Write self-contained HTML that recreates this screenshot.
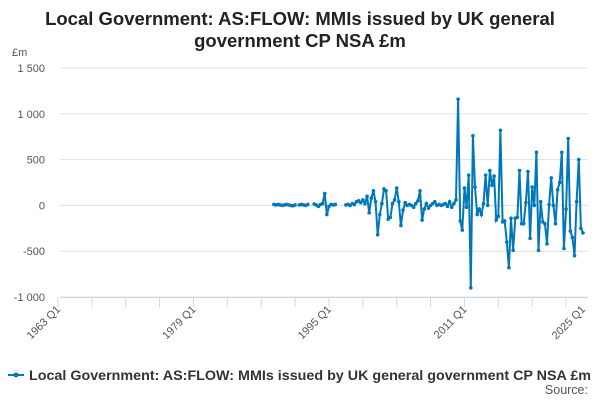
<!DOCTYPE html>
<html><head><meta charset="utf-8"><style>
body{margin:0;width:600px;height:400px;background:#fff;font-family:"Liberation Sans",sans-serif;overflow:hidden}
</style></head><body>
<svg id="c" width="600" height="400" xmlns="http://www.w3.org/2000/svg">
<text x="300" y="25" text-anchor="middle" font-size="18.5" font-weight="bold" fill="#222">Local Government: AS:FLOW: MMIs issued by UK general</text>
<text x="300" y="47" text-anchor="middle" font-size="18.5" font-weight="bold" fill="#222">government CP NSA £m</text>
<text x="12" y="56" font-size="11" fill="#555">£m</text>
<g id="grid"></g><g id="xax"></g><g id="series"></g>
<g>
<line x1="8" y1="375" x2="24" y2="375" stroke="#0077bb" stroke-width="2"/><circle cx="16" cy="375" r="2.5" fill="#0077bb"/>
<text x="29" y="380" font-size="13.5" font-weight="bold" fill="#333" textLength="562" lengthAdjust="spacingAndGlyphs">Local Government: AS:FLOW: MMIs issued by UK general government CP NSA £m</text>
</g>
<text x="588" y="394" text-anchor="end" font-size="12.5" fill="#555">Source:</text>
</svg>
<script>
const yTicks=[1500,1000,500,0,-500,-1000];
const yTickLabels=["1 500","1 000","500","0","-500","-1 000"];
const xTickLabels=["1963 Q1","1979 Q1","1995 Q1","2011 Q1","2025 Q1"];
const xTickYears=[1963,1979,1995,2011,2025];
const startYear=1988.5;
const values=[10,5, 10,5,0,5, 10,5,0,-5, 5,null,5,10, 5,0,10,null, null,15,5,-10, 10,20,130,-100, -10,10,5,10, null,null,null,null, 5,10,0,20, 10,40,50,30, 60,20,100,-80, 80,160,40,-320, -100,20,180,160, -150,-130,20,60, 190,40,-220,-50, 30,0,10,0, -20,20,50,160, -160,-40,20,-30, 0,20,40,0,
10,0,10,20,-10,40,-20,20,60,1160,-170,-270,190,-20,330,-900,760,200,-100,-40,-100,20,330,0,380,220,320,-160,-120,820,-180,-170,-400,-680,-140,-490,-140,-130,380,-200,-200,30,370,-360,200,0,580,-490,40,-180,-200,-420,10,300,0,-200,170,250,580,-470,-40,730,-280,-350,-550,40,500,-250,-300];
const NS="http://www.w3.org/2000/svg";
const X0=58,X1=583,Y0=297,Y1=68;
const xs=t=>X0+(t-1963)/(2025-1963)*(X1-X0);
const ys=v=>Y0-(v+1000)/2500*(Y0-Y1);
function mk(tag,at,parent){const e=document.createElementNS(NS,tag);for(const k in at)e.setAttribute(k,at[k]);parent.appendChild(e);return e;}
const grid=document.getElementById('grid');
yTicks.forEach((v,i)=>{
 const l=mk('line',{x1:60,x2:588,y1:ys(v),y2:ys(v),stroke:'#e0e0e0','stroke-width':1},grid);
 
 
 const t=mk('text',{x:45,y:ys(v)+4,'text-anchor':'end','font-size':11,fill:'#555'},grid);
 t.textContent=yTickLabels[i];
 
 
});
const xax=document.getElementById('xax');
mk('line',{x1:60,x2:588,y1:297.5,y2:297.5,stroke:'#ccd6eb'},xax);
for(let y=1963;y<=2025;y+=4){const tk=mk('line',{x1:xs(y),x2:xs(y),y1:297,y2:307,stroke:'#ccd6eb'},xax);
 
 }
xTickLabels.forEach((s,i)=>{const x=xs(xTickYears[i]);
 const t=mk('text',{x:x+3,y:310,'text-anchor':'end','font-size':11,fill:'#555',transform:`rotate(-45 ${x+3} 310)`},xax);
 t.textContent=s;
 
 });
const ser=document.getElementById('series');
let d='',pen=false;
values.forEach((v,i)=>{if(v===null){pen=false;return;}const x=xs(startYear+i/4),y=ys(v);d+=(pen?'L':'M')+x.toFixed(1)+' '+y.toFixed(1);pen=true;});
const p=mk('path',{d:d,fill:'none',stroke:'#0077bb','stroke-width':2},ser);


values.forEach((v,i)=>{if(v===null)return;const c=mk('circle',{cx:xs(startYear+i/4),cy:ys(v),r:1.8,fill:'#0077bb'},ser);
 
 });
</script>
</body></html>
